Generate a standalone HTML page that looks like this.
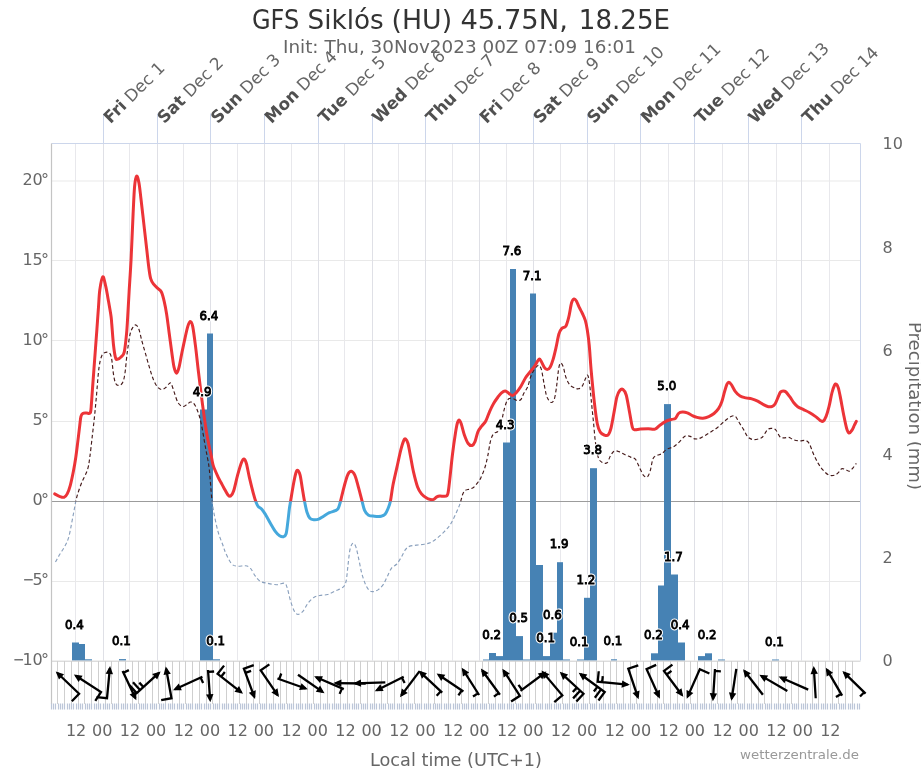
<!DOCTYPE html>
<html lang="en"><head><meta charset="utf-8"><title>GFS Siklós (HU) 45.75N, 18.25E</title>
<style>html,body{margin:0;padding:0;background:#fff}body{width:921px;height:768px;overflow:hidden}svg{display:block}text{font-family:'DejaVu Sans','Liberation Sans',sans-serif}</style>
</head><body>
<svg width="921" height="768" viewBox="0 0 921 768">
<rect width="921" height="768" fill="#fff"/>
<defs>
<clipPath id="above"><rect x="51.5" y="143.5" width="809" height="357.9"/></clipPath>
<clipPath id="below"><rect x="51.5" y="501.4" width="809" height="159.1"/></clipPath>
</defs>
<g stroke="#e8e8ec" stroke-width="1" fill="none">
<path d="M75.5 143.5V660.5M129.5 143.5V660.5M183.5 143.5V660.5M237.5 143.5V660.5M291.5 143.5V660.5M344.5 143.5V660.5M398.5 143.5V660.5M452.5 143.5V660.5M506.5 143.5V660.5M560.5 143.5V660.5M614.5 143.5V660.5M668.5 143.5V660.5M722.5 143.5V660.5M776.5 143.5V660.5M829.5 143.5V660.5"/>
</g>
<g stroke="#e9e9e9" stroke-width="1">
<path d="M51.5 181H860.5"/>
<path d="M51.5 260.5H860.5"/>
<path d="M51.5 340.5H860.5"/>
<path d="M51.5 421.5H860.5"/>
<path d="M51.5 581.5H860.5"/>
</g>
<g stroke="#dfe0e6" stroke-width="1" fill="none">
<path d="M103.5 143.5V660.5M157.5 143.5V660.5M210.5 143.5V660.5M264.5 143.5V660.5M318.5 143.5V660.5M372.5 143.5V660.5M425.5 143.5V660.5M479.5 143.5V660.5M533.5 143.5V660.5M587.5 143.5V660.5M640.5 143.5V660.5M694.5 143.5V660.5M748.5 143.5V660.5M801.5 143.5V660.5"/>
</g>
<g stroke="#ccd6eb" stroke-width="1" fill="none">
<path d="M103.5 113.5V143.5M157.5 113.5V143.5M210.5 113.5V143.5M264.5 113.5V143.5M318.5 113.5V143.5M372.5 113.5V143.5M425.5 113.5V143.5M479.5 113.5V143.5M533.5 113.5V143.5M587.5 113.5V143.5M640.5 113.5V143.5M694.5 113.5V143.5M748.5 113.5V143.5M801.5 113.5V143.5"/>
</g>
<path d="M51.5 501.5H860.5" stroke="#9c9c9c" stroke-width="1.15"/>
<g fill="#4682b4">
<rect x="72" y="642.5" width="7" height="18"/>
<rect x="79" y="644" width="6" height="16.5"/>
<rect x="85" y="659.3" width="7" height="1.2"/>
<rect x="119" y="659.1" width="7" height="1.4"/>
<rect x="200" y="409.5" width="7" height="251"/>
<rect x="207" y="333.5" width="6" height="327"/>
<rect x="213" y="659.3" width="7" height="1.2"/>
<rect x="483" y="659.5" width="6" height="1"/>
<rect x="489" y="653" width="7" height="7.5"/>
<rect x="496" y="656.1" width="7" height="4.4"/>
<rect x="503" y="442.5" width="7" height="218"/>
<rect x="510" y="269" width="6" height="391.5"/>
<rect x="516" y="636.1" width="7" height="24.4"/>
<rect x="523" y="659.5" width="7" height="1"/>
<rect x="530" y="293.5" width="6" height="367"/>
<rect x="536" y="565" width="7" height="95.5"/>
<rect x="543" y="656.1" width="7" height="4.4"/>
<rect x="550" y="632.7" width="7" height="27.8"/>
<rect x="557" y="562.2" width="6" height="98.3"/>
<rect x="563" y="659.5" width="7" height="1"/>
<rect x="577" y="659.5" width="7" height="1"/>
<rect x="584" y="597.8" width="6" height="62.7"/>
<rect x="590" y="468.2" width="7" height="192.3"/>
<rect x="611" y="659.3" width="6" height="1.2"/>
<rect x="651" y="653.3" width="7" height="7.2"/>
<rect x="658" y="585.5" width="6" height="75"/>
<rect x="664" y="404.1" width="7" height="256.4"/>
<rect x="671" y="574.5" width="7" height="86"/>
<rect x="678" y="642.5" width="7" height="18"/>
<rect x="698" y="656.1" width="7" height="4.4"/>
<rect x="705" y="653.3" width="7" height="7.2"/>
<rect x="718" y="659.5" width="7" height="1"/>
<rect x="772" y="659.5" width="7" height="1"/>
</g>
<path d="M55.5 562.1C56.22 560.8 58.27 556.9 59.8 554.3C61.33 551.7 63.23 549.27 64.7 546.5C66.17 543.73 67.47 541.45 68.6 537.7C69.73 533.95 70.57 528.65 71.5 524C72.43 519.35 73.35 514.17 74.2 509.8C75.05 505.43 75.42 502.14 76.6 497.8C77.77 493.46 79.43 488.43 81.25 483.75C83.07 479.07 86.08 474.12 87.5 469.7C88.92 465.27 89.02 462.67 89.8 457.2C90.58 451.73 91.42 443.67 92.2 436.9C92.98 430.13 93.8 423.33 94.5 416.6C95.2 409.87 95.67 404.53 96.4 396.5C97.13 388.47 98 375.2 98.9 368.4C99.8 361.6 100.67 358.37 101.8 355.7C102.93 353.03 104.4 352.82 105.7 352.4C107 351.98 108.62 352.17 109.6 353.2C110.58 354.23 110.95 355.08 111.6 358.6C112.25 362.12 112.85 370.22 113.5 374.3C114.15 378.38 114.68 381.25 115.5 383.1C116.32 384.95 117.27 385.4 118.4 385.4C119.53 385.4 121.23 384.95 122.3 383.1C123.37 381.25 123.98 379.35 124.8 374.3C125.62 369.25 126.32 359.48 127.2 352.8C128.08 346.12 129.12 338.5 130.1 334.2C131.08 329.9 132.12 328.53 133.1 327C134.08 325.47 135.03 324.62 136 325C136.97 325.38 137.92 326.63 138.9 329.3C139.88 331.97 140.75 336.77 141.9 341C143.05 345.23 144.5 350.13 145.8 354.7C147.1 359.27 148.4 364.17 149.7 368.4C151 372.63 152.3 377 153.6 380.1C154.9 383.2 156.2 385.43 157.5 387C158.8 388.57 160.1 389.35 161.4 389.5C162.7 389.65 164 388.88 165.3 387.9C166.6 386.92 168.22 384.32 169.2 383.6C170.18 382.88 170.38 382.22 171.2 383.6C172.02 384.98 172.97 388.73 174.1 391.9C175.23 395.07 176.53 400.17 178 402.6C179.47 405.03 181.43 406.17 182.9 406.5C184.37 406.83 185.5 405.35 186.8 404.6C188.1 403.85 189.4 402 190.7 402C192 402 193.3 402.7 194.6 404.6C195.9 406.5 197.35 409.98 198.5 413.4C199.65 416.82 200.35 419.5 201.5 425.1C202.65 430.7 204.4 441.52 205.4 447C206.4 452.48 206.85 454.28 207.5 458C208.15 461.72 208.58 462.53 209.3 469.3C210.02 476.07 210.98 491.1 211.8 498.6C212.62 506.1 213.15 508.75 214.2 514.3C215.25 519.85 216.63 526.7 218.1 531.9C219.57 537.1 221.7 541.9 223 545.5C224.3 549.1 224.45 550.42 225.9 553.5C227.35 556.58 229.75 561.88 231.7 564C233.65 566.12 235.32 565.9 237.6 566.2C239.88 566.5 243.28 565.48 245.4 565.8C247.52 566.12 248.67 566.42 250.3 568.1C251.93 569.78 253.57 573.72 255.2 575.9C256.83 578.08 258.15 579.98 260.1 581.2C262.05 582.42 264.13 582.62 266.9 583.2C269.67 583.78 273.77 584.7 276.7 584.7C279.63 584.7 282.72 582.55 284.5 583.2C286.28 583.85 286.42 585.73 287.4 588.6C288.38 591.47 289.25 596.65 290.4 600.4C291.55 604.15 293 608.77 294.3 611.1C295.6 613.43 296.73 614.4 298.2 614.4C299.67 614.4 301.48 612.95 303.1 611.1C304.72 609.25 306.12 605.58 307.9 603.3C309.68 601.02 311.83 598.7 313.8 597.4C315.77 596.1 317.42 595.98 319.7 595.5C321.98 595.02 324.9 595.25 327.5 594.5C330.1 593.75 332.7 592.23 335.3 591C337.9 589.77 341.3 588.73 343.1 587.1C344.9 585.47 345.28 584.85 346.1 581.2C346.92 577.55 347.35 570.48 348 565.2C348.65 559.92 349.18 553.15 350 549.5C350.82 545.85 351.93 543.78 352.9 543.3C353.87 542.82 354.82 543.93 355.8 546.6C356.78 549.27 357.82 554.9 358.8 559.3C359.78 563.7 360.57 568.77 361.7 573C362.83 577.23 364.3 581.77 365.6 584.7C366.9 587.63 368.2 589.45 369.5 590.6C370.8 591.75 371.93 591.77 373.4 591.6C374.87 591.43 376.67 590.75 378.3 589.6C379.93 588.45 381.73 586.82 383.2 584.7C384.67 582.58 385.73 579.63 387.1 576.9C388.47 574.17 389.78 570.45 391.4 568.3C393.02 566.15 395.12 565.9 396.8 564C398.48 562.1 400.07 559.28 401.5 556.9C402.93 554.52 404.1 551.45 405.4 549.7C406.7 547.95 407.45 547.17 409.3 546.4C411.15 545.63 414 545.47 416.5 545.1C419 544.73 421.92 544.63 424.3 544.2C426.68 543.77 428.63 543.53 430.8 542.5C432.97 541.47 435.13 539.73 437.3 538C439.47 536.27 441.83 534.05 443.8 532.1C445.77 530.15 447.57 528.37 449.1 526.3C450.63 524.23 451.7 522.2 453 519.7C454.3 517.2 455.72 514 456.9 511.3C458.08 508.6 459.13 506.33 460.1 503.5C461.07 500.67 461.83 496.48 462.7 494.3C463.57 492.12 464.1 491.27 465.3 490.4C466.5 489.53 468.48 489.63 469.9 489.1C471.32 488.57 472.5 488.28 473.8 487.2C475.1 486.12 476.52 484.18 477.7 482.6C478.88 481.02 479.72 480.15 480.9 477.7C482.08 475.25 483.67 471.48 484.8 467.9C485.93 464.32 486.73 460.75 487.7 456.2C488.67 451.65 489.62 444.35 490.6 440.6C491.58 436.85 492.45 435.17 493.6 433.7C494.75 432.23 496.37 432.77 497.5 431.8C498.63 430.83 499.43 431 500.4 427.9C501.37 424.8 502.32 417.43 503.3 413.2C504.28 408.97 505.32 404.93 506.3 402.5C507.28 400.07 508.07 399.25 509.2 398.6C510.33 397.95 511.8 398.28 513.1 398.6C514.4 398.92 515.7 400.35 517 400.5C518.3 400.65 519.78 400.65 520.9 399.5C522.02 398.35 522.57 395.72 523.7 393.6C524.83 391.48 526.55 389.57 527.7 386.8C528.85 384.03 529.47 379.93 530.6 377C531.73 374.07 533.2 371.15 534.5 369.2C535.8 367.25 537.27 365.3 538.4 365.3C539.53 365.3 540.38 366.27 541.3 369.2C542.22 372.13 543.08 378.67 543.9 382.9C544.72 387.13 545.47 391.83 546.2 394.6C546.93 397.37 547.47 398.18 548.3 399.5C549.13 400.82 550.22 402.5 551.2 402.5C552.18 402.5 553.38 401.62 554.2 399.5C555.02 397.38 555.63 392.57 556.1 389.8C556.57 387.03 556.53 386.65 557 382.9C557.47 379.15 558.25 370.62 558.9 367.3C559.55 363.98 560.15 363 560.9 363C561.65 363 562.58 364.97 563.4 367.3C564.22 369.63 564.75 374.08 565.8 377C566.85 379.92 568.23 383 569.7 384.8C571.17 386.6 573.13 387.13 574.6 387.8C576.07 388.47 577.2 389.13 578.5 388.8C579.8 388.47 581.27 387.43 582.4 385.8C583.53 384.17 584.43 380.78 585.3 379C586.17 377.22 586.9 374.4 587.6 375.1C588.3 375.8 588.85 378.58 589.5 383.2C590.15 387.82 590.83 396.28 591.5 402.8C592.17 409.32 592.85 415.78 593.5 422.3C594.15 428.82 594.6 436.03 595.4 441.9C596.2 447.77 597.17 454.08 598.3 457.5C599.43 460.92 600.73 461.52 602.2 462.4C603.67 463.28 605.78 463.78 607.1 462.8C608.42 461.82 608.95 458.43 610.1 456.5C611.25 454.57 612.53 452.02 614 451.2C615.47 450.38 617.12 451.03 618.9 451.6C620.68 452.17 622.75 453.68 624.7 454.6C626.65 455.52 628.8 456.3 630.6 457.1C632.4 457.9 634.03 457.7 635.5 459.4C636.97 461.1 638.1 464.68 639.4 467.3C640.7 469.92 642 473.48 643.3 475.1C644.6 476.72 646.07 477.65 647.2 477C648.33 476.35 649.12 474.28 650.1 471.2C651.08 468.12 651.95 461.12 653.1 458.5C654.25 455.88 655.53 456.32 657 455.5C658.47 454.68 660.28 454.63 661.9 453.6C663.52 452.57 664.75 450.45 666.7 449.3C668.65 448.15 671.48 447.93 673.6 446.7C675.72 445.47 677.45 443.68 679.4 441.9C681.35 440.12 683.5 436.92 685.3 436C687.1 435.08 688.57 435.92 690.2 436.4C691.83 436.88 693.32 438.65 695.1 438.9C696.88 439.15 698.62 438.87 700.9 437.9C703.18 436.93 706.18 434.72 708.8 433.1C711.42 431.48 714 430.17 716.6 428.2C719.2 426.23 722.13 423.17 724.4 421.3C726.67 419.43 728.42 417.87 730.2 417C731.98 416.13 733.63 415.22 735.1 416.1C736.57 416.98 737.53 419.97 739 422.3C740.47 424.63 742.42 427.65 743.9 430.1C745.38 432.55 746.42 435.43 747.9 437C749.38 438.57 751.02 439.18 752.8 439.5C754.58 439.82 756.98 439.32 758.6 438.9C760.22 438.48 761.2 438.3 762.5 437C763.8 435.7 765.25 432.5 766.4 431.1C767.55 429.7 768.25 429.02 769.4 428.6C770.55 428.18 772.17 428.28 773.3 428.6C774.43 428.92 775.07 429.1 776.2 430.5C777.33 431.9 778.8 435.77 780.1 437C781.4 438.23 782.53 437.83 784 437.9C785.47 437.97 787.27 437.07 788.9 437.4C790.53 437.73 792 439.32 793.8 439.9C795.6 440.48 797.75 440.8 799.7 440.9C801.65 441 803.88 440.02 805.5 440.5C807.12 440.98 808.1 441.62 809.4 443.8C810.7 445.98 811.83 450.33 813.3 453.6C814.77 456.87 816.57 460.63 818.2 463.4C819.83 466.17 821.3 468.25 823.1 470.2C824.9 472.15 827.03 474.28 829 475.1C830.97 475.92 833.27 475.6 834.9 475.1C836.53 474.6 837.67 473.15 838.8 472.1C839.93 471.05 840.57 469.22 841.7 468.8C842.83 468.38 844.3 469.2 845.6 469.6C846.9 470 848.2 471.58 849.5 471.2C850.8 470.82 852.27 468.6 853.4 467.3C854.53 466 855.82 464.05 856.3 463.4" fill="none" stroke="#451a1a" stroke-width="1.15" stroke-dasharray="3.7 2.5" clip-path="url(#above)"/>
<path d="M55.5 562.1C56.22 560.8 58.27 556.9 59.8 554.3C61.33 551.7 63.23 549.27 64.7 546.5C66.17 543.73 67.47 541.45 68.6 537.7C69.73 533.95 70.57 528.65 71.5 524C72.43 519.35 73.35 514.17 74.2 509.8C75.05 505.43 75.42 502.14 76.6 497.8C77.77 493.46 79.43 488.43 81.25 483.75C83.07 479.07 86.08 474.12 87.5 469.7C88.92 465.27 89.02 462.67 89.8 457.2C90.58 451.73 91.42 443.67 92.2 436.9C92.98 430.13 93.8 423.33 94.5 416.6C95.2 409.87 95.67 404.53 96.4 396.5C97.13 388.47 98 375.2 98.9 368.4C99.8 361.6 100.67 358.37 101.8 355.7C102.93 353.03 104.4 352.82 105.7 352.4C107 351.98 108.62 352.17 109.6 353.2C110.58 354.23 110.95 355.08 111.6 358.6C112.25 362.12 112.85 370.22 113.5 374.3C114.15 378.38 114.68 381.25 115.5 383.1C116.32 384.95 117.27 385.4 118.4 385.4C119.53 385.4 121.23 384.95 122.3 383.1C123.37 381.25 123.98 379.35 124.8 374.3C125.62 369.25 126.32 359.48 127.2 352.8C128.08 346.12 129.12 338.5 130.1 334.2C131.08 329.9 132.12 328.53 133.1 327C134.08 325.47 135.03 324.62 136 325C136.97 325.38 137.92 326.63 138.9 329.3C139.88 331.97 140.75 336.77 141.9 341C143.05 345.23 144.5 350.13 145.8 354.7C147.1 359.27 148.4 364.17 149.7 368.4C151 372.63 152.3 377 153.6 380.1C154.9 383.2 156.2 385.43 157.5 387C158.8 388.57 160.1 389.35 161.4 389.5C162.7 389.65 164 388.88 165.3 387.9C166.6 386.92 168.22 384.32 169.2 383.6C170.18 382.88 170.38 382.22 171.2 383.6C172.02 384.98 172.97 388.73 174.1 391.9C175.23 395.07 176.53 400.17 178 402.6C179.47 405.03 181.43 406.17 182.9 406.5C184.37 406.83 185.5 405.35 186.8 404.6C188.1 403.85 189.4 402 190.7 402C192 402 193.3 402.7 194.6 404.6C195.9 406.5 197.35 409.98 198.5 413.4C199.65 416.82 200.35 419.5 201.5 425.1C202.65 430.7 204.4 441.52 205.4 447C206.4 452.48 206.85 454.28 207.5 458C208.15 461.72 208.58 462.53 209.3 469.3C210.02 476.07 210.98 491.1 211.8 498.6C212.62 506.1 213.15 508.75 214.2 514.3C215.25 519.85 216.63 526.7 218.1 531.9C219.57 537.1 221.7 541.9 223 545.5C224.3 549.1 224.45 550.42 225.9 553.5C227.35 556.58 229.75 561.88 231.7 564C233.65 566.12 235.32 565.9 237.6 566.2C239.88 566.5 243.28 565.48 245.4 565.8C247.52 566.12 248.67 566.42 250.3 568.1C251.93 569.78 253.57 573.72 255.2 575.9C256.83 578.08 258.15 579.98 260.1 581.2C262.05 582.42 264.13 582.62 266.9 583.2C269.67 583.78 273.77 584.7 276.7 584.7C279.63 584.7 282.72 582.55 284.5 583.2C286.28 583.85 286.42 585.73 287.4 588.6C288.38 591.47 289.25 596.65 290.4 600.4C291.55 604.15 293 608.77 294.3 611.1C295.6 613.43 296.73 614.4 298.2 614.4C299.67 614.4 301.48 612.95 303.1 611.1C304.72 609.25 306.12 605.58 307.9 603.3C309.68 601.02 311.83 598.7 313.8 597.4C315.77 596.1 317.42 595.98 319.7 595.5C321.98 595.02 324.9 595.25 327.5 594.5C330.1 593.75 332.7 592.23 335.3 591C337.9 589.77 341.3 588.73 343.1 587.1C344.9 585.47 345.28 584.85 346.1 581.2C346.92 577.55 347.35 570.48 348 565.2C348.65 559.92 349.18 553.15 350 549.5C350.82 545.85 351.93 543.78 352.9 543.3C353.87 542.82 354.82 543.93 355.8 546.6C356.78 549.27 357.82 554.9 358.8 559.3C359.78 563.7 360.57 568.77 361.7 573C362.83 577.23 364.3 581.77 365.6 584.7C366.9 587.63 368.2 589.45 369.5 590.6C370.8 591.75 371.93 591.77 373.4 591.6C374.87 591.43 376.67 590.75 378.3 589.6C379.93 588.45 381.73 586.82 383.2 584.7C384.67 582.58 385.73 579.63 387.1 576.9C388.47 574.17 389.78 570.45 391.4 568.3C393.02 566.15 395.12 565.9 396.8 564C398.48 562.1 400.07 559.28 401.5 556.9C402.93 554.52 404.1 551.45 405.4 549.7C406.7 547.95 407.45 547.17 409.3 546.4C411.15 545.63 414 545.47 416.5 545.1C419 544.73 421.92 544.63 424.3 544.2C426.68 543.77 428.63 543.53 430.8 542.5C432.97 541.47 435.13 539.73 437.3 538C439.47 536.27 441.83 534.05 443.8 532.1C445.77 530.15 447.57 528.37 449.1 526.3C450.63 524.23 451.7 522.2 453 519.7C454.3 517.2 455.72 514 456.9 511.3C458.08 508.6 459.13 506.33 460.1 503.5C461.07 500.67 461.83 496.48 462.7 494.3C463.57 492.12 464.1 491.27 465.3 490.4C466.5 489.53 468.48 489.63 469.9 489.1C471.32 488.57 472.5 488.28 473.8 487.2C475.1 486.12 476.52 484.18 477.7 482.6C478.88 481.02 479.72 480.15 480.9 477.7C482.08 475.25 483.67 471.48 484.8 467.9C485.93 464.32 486.73 460.75 487.7 456.2C488.67 451.65 489.62 444.35 490.6 440.6C491.58 436.85 492.45 435.17 493.6 433.7C494.75 432.23 496.37 432.77 497.5 431.8C498.63 430.83 499.43 431 500.4 427.9C501.37 424.8 502.32 417.43 503.3 413.2C504.28 408.97 505.32 404.93 506.3 402.5C507.28 400.07 508.07 399.25 509.2 398.6C510.33 397.95 511.8 398.28 513.1 398.6C514.4 398.92 515.7 400.35 517 400.5C518.3 400.65 519.78 400.65 520.9 399.5C522.02 398.35 522.57 395.72 523.7 393.6C524.83 391.48 526.55 389.57 527.7 386.8C528.85 384.03 529.47 379.93 530.6 377C531.73 374.07 533.2 371.15 534.5 369.2C535.8 367.25 537.27 365.3 538.4 365.3C539.53 365.3 540.38 366.27 541.3 369.2C542.22 372.13 543.08 378.67 543.9 382.9C544.72 387.13 545.47 391.83 546.2 394.6C546.93 397.37 547.47 398.18 548.3 399.5C549.13 400.82 550.22 402.5 551.2 402.5C552.18 402.5 553.38 401.62 554.2 399.5C555.02 397.38 555.63 392.57 556.1 389.8C556.57 387.03 556.53 386.65 557 382.9C557.47 379.15 558.25 370.62 558.9 367.3C559.55 363.98 560.15 363 560.9 363C561.65 363 562.58 364.97 563.4 367.3C564.22 369.63 564.75 374.08 565.8 377C566.85 379.92 568.23 383 569.7 384.8C571.17 386.6 573.13 387.13 574.6 387.8C576.07 388.47 577.2 389.13 578.5 388.8C579.8 388.47 581.27 387.43 582.4 385.8C583.53 384.17 584.43 380.78 585.3 379C586.17 377.22 586.9 374.4 587.6 375.1C588.3 375.8 588.85 378.58 589.5 383.2C590.15 387.82 590.83 396.28 591.5 402.8C592.17 409.32 592.85 415.78 593.5 422.3C594.15 428.82 594.6 436.03 595.4 441.9C596.2 447.77 597.17 454.08 598.3 457.5C599.43 460.92 600.73 461.52 602.2 462.4C603.67 463.28 605.78 463.78 607.1 462.8C608.42 461.82 608.95 458.43 610.1 456.5C611.25 454.57 612.53 452.02 614 451.2C615.47 450.38 617.12 451.03 618.9 451.6C620.68 452.17 622.75 453.68 624.7 454.6C626.65 455.52 628.8 456.3 630.6 457.1C632.4 457.9 634.03 457.7 635.5 459.4C636.97 461.1 638.1 464.68 639.4 467.3C640.7 469.92 642 473.48 643.3 475.1C644.6 476.72 646.07 477.65 647.2 477C648.33 476.35 649.12 474.28 650.1 471.2C651.08 468.12 651.95 461.12 653.1 458.5C654.25 455.88 655.53 456.32 657 455.5C658.47 454.68 660.28 454.63 661.9 453.6C663.52 452.57 664.75 450.45 666.7 449.3C668.65 448.15 671.48 447.93 673.6 446.7C675.72 445.47 677.45 443.68 679.4 441.9C681.35 440.12 683.5 436.92 685.3 436C687.1 435.08 688.57 435.92 690.2 436.4C691.83 436.88 693.32 438.65 695.1 438.9C696.88 439.15 698.62 438.87 700.9 437.9C703.18 436.93 706.18 434.72 708.8 433.1C711.42 431.48 714 430.17 716.6 428.2C719.2 426.23 722.13 423.17 724.4 421.3C726.67 419.43 728.42 417.87 730.2 417C731.98 416.13 733.63 415.22 735.1 416.1C736.57 416.98 737.53 419.97 739 422.3C740.47 424.63 742.42 427.65 743.9 430.1C745.38 432.55 746.42 435.43 747.9 437C749.38 438.57 751.02 439.18 752.8 439.5C754.58 439.82 756.98 439.32 758.6 438.9C760.22 438.48 761.2 438.3 762.5 437C763.8 435.7 765.25 432.5 766.4 431.1C767.55 429.7 768.25 429.02 769.4 428.6C770.55 428.18 772.17 428.28 773.3 428.6C774.43 428.92 775.07 429.1 776.2 430.5C777.33 431.9 778.8 435.77 780.1 437C781.4 438.23 782.53 437.83 784 437.9C785.47 437.97 787.27 437.07 788.9 437.4C790.53 437.73 792 439.32 793.8 439.9C795.6 440.48 797.75 440.8 799.7 440.9C801.65 441 803.88 440.02 805.5 440.5C807.12 440.98 808.1 441.62 809.4 443.8C810.7 445.98 811.83 450.33 813.3 453.6C814.77 456.87 816.57 460.63 818.2 463.4C819.83 466.17 821.3 468.25 823.1 470.2C824.9 472.15 827.03 474.28 829 475.1C830.97 475.92 833.27 475.6 834.9 475.1C836.53 474.6 837.67 473.15 838.8 472.1C839.93 471.05 840.57 469.22 841.7 468.8C842.83 468.38 844.3 469.2 845.6 469.6C846.9 470 848.2 471.58 849.5 471.2C850.8 470.82 852.27 468.6 853.4 467.3C854.53 466 855.82 464.05 856.3 463.4" fill="none" stroke="#8aa0bd" stroke-width="1.15" stroke-dasharray="3.7 2.5" clip-path="url(#below)"/>
<path d="M54.7 493.9C55.48 494.3 57.83 495.73 59.4 496.3C60.97 496.87 62.8 497.7 64.1 497.3C65.4 496.9 66.17 495.9 67.2 493.9C68.23 491.9 69.27 489.07 70.3 485.3C71.33 481.53 72.48 475.98 73.4 471.3C74.32 466.62 75.07 462.15 75.8 457.2C76.53 452.25 77.15 446.82 77.8 441.6C78.45 436.38 79.18 430.07 79.7 425.9C80.22 421.73 80.38 418.68 80.9 416.6C81.42 414.52 81.87 414 82.8 413.4C83.73 412.8 85.25 413.1 86.5 413C87.75 412.9 89.48 414.3 90.3 412.8C91.12 411.3 91.05 407.8 91.4 404C91.75 400.2 91.97 395.93 92.4 390C92.83 384.07 93.25 378.52 94 368.4C94.75 358.28 96.15 339.53 96.9 329.3C97.65 319.07 98.02 313.55 98.5 307C98.98 300.45 99.08 295.03 99.8 290C100.52 284.97 101.82 277.43 102.8 276.8C103.78 276.17 104.73 282.03 105.7 286.2C106.67 290.37 107.72 296.83 108.6 301.8C109.48 306.77 110.47 312.22 111 316C111.53 319.78 111.38 319.67 111.8 324.5C112.22 329.33 112.88 339.47 113.5 345C114.12 350.53 114.85 355.33 115.5 357.7C116.15 360.07 116.43 359.37 117.4 359.2C118.37 359.03 120.15 357.93 121.3 356.7C122.45 355.47 123.42 355.72 124.3 351.8C125.18 347.88 126.02 339.33 126.6 333.2C127.18 327.07 127.38 321.87 127.8 315C128.22 308.13 128.55 301.37 129.1 292C129.65 282.63 130.43 271.82 131.1 258.8C131.77 245.78 132.52 225.95 133.1 213.9C133.68 201.85 134.02 192.8 134.6 186.5C135.18 180.2 135.88 176.75 136.6 176.1C137.32 175.45 138.18 178.92 138.9 182.6C139.62 186.28 140.08 191.37 140.9 198.2C141.72 205.03 142.83 215.13 143.8 223.6C144.77 232.07 145.88 241.83 146.7 249C147.52 256.17 148.05 261.72 148.7 266.6C149.35 271.48 149.78 275.37 150.6 278.3C151.42 281.23 152.45 282.57 153.6 284.2C154.75 285.83 156.2 286.8 157.5 288.1C158.8 289.4 160.27 289.72 161.4 292C162.53 294.28 163.43 298.13 164.3 301.8C165.17 305.47 165.78 308.77 166.6 314C167.42 319.23 168.28 326.42 169.2 333.2C170.12 339.98 171.28 349 172.1 354.7C172.92 360.4 173.35 364.3 174.1 367.4C174.85 370.5 175.78 373.3 176.6 373.3C177.42 373.3 178.12 370.82 179 367.4C179.88 363.98 180.93 357.52 181.9 352.8C182.87 348.08 183.82 343.5 184.8 339.1C185.78 334.7 186.88 329.33 187.8 326.4C188.72 323.47 189.48 321.5 190.3 321.5C191.12 321.5 191.82 322.17 192.7 326.4C193.58 330.63 194.63 339.25 195.6 346.9C196.57 354.55 197.37 362.85 198.5 372.3C199.63 381.75 201.1 393.83 202.4 403.6C203.7 413.37 205.15 423.67 206.3 430.9C207.45 438.13 208.48 442.88 209.3 447C210.12 451.12 210.55 452.53 211.2 455.6C211.85 458.67 212.05 461.82 213.2 465.4C214.35 468.98 216.8 474.25 218.1 477.1C219.4 479.95 220.03 480.7 221 482.5C221.97 484.3 222.77 485.87 223.9 487.9C225.03 489.93 226.67 493.33 227.8 494.7C228.93 496.07 229.72 496.75 230.7 496.1C231.68 495.45 232.55 494.28 233.7 490.8C234.85 487.32 236.3 479.92 237.6 475.2C238.9 470.48 240.43 465.2 241.5 462.5C242.57 459.8 243.18 458.83 244 459C244.82 459.17 245.52 460.48 246.4 463.5C247.28 466.52 248.17 472.22 249.3 477.1C250.43 481.98 252.12 488.72 253.2 492.8C254.28 496.88 254.98 499.33 255.8 501.6C256.62 503.87 257.07 505.1 258.1 506.4C259.13 507.7 260.7 507.93 262 509.4C263.3 510.87 264.43 512.77 265.9 515.2C267.37 517.63 269.17 521.22 270.8 524C272.43 526.78 274.23 529.93 275.7 531.9C277.17 533.87 278.3 535 279.6 535.8C280.9 536.6 282.42 537.03 283.5 536.7C284.58 536.37 285.38 536.23 286.1 533.8C286.82 531.37 287.25 526.33 287.8 522.1C288.35 517.87 288.92 511.98 289.4 508.4C289.88 504.82 290.05 504.52 290.7 500.6C291.35 496.68 292.45 489.47 293.3 484.9C294.15 480.33 295.05 475.63 295.8 473.2C296.55 470.77 297.08 469.97 297.8 470.3C298.52 470.63 299.38 472.43 300.1 475.2C300.82 477.97 301.38 482.67 302.1 486.9C302.82 491.13 303.58 496.37 304.4 500.6C305.22 504.83 306.08 509.37 307 512.3C307.92 515.23 308.77 516.97 309.9 518.2C311.03 519.43 312.33 519.55 313.8 519.7C315.27 519.85 317.07 519.68 318.7 519.1C320.33 518.52 321.82 517.27 323.6 516.2C325.38 515.13 327.45 513.62 329.4 512.7C331.35 511.78 333.83 511.42 335.3 510.7C336.77 509.98 337.38 509.77 338.2 508.4C339.02 507.03 339.55 504.78 340.2 502.5C340.85 500.22 341.28 497.95 342.1 494.7C342.92 491.45 344.12 486.42 345.1 483C346.08 479.58 346.97 476.15 348 474.2C349.03 472.25 350.17 471.13 351.3 471.3C352.43 471.47 353.72 472.93 354.8 475.2C355.88 477.47 356.65 480.83 357.8 484.9C358.95 488.97 360.57 495.35 361.7 499.6C362.83 503.85 363.47 507.8 364.6 510.4C365.73 513 366.87 514.23 368.5 515.2C370.13 516.17 372.28 516.03 374.4 516.2C376.52 516.37 379.42 516.52 381.2 516.2C382.98 515.88 383.95 515.6 385.1 514.3C386.25 513 387.22 510.58 388.1 508.4C388.98 506.22 389.6 505.02 390.4 501.2C391.2 497.38 391.83 491.05 392.9 485.5C393.97 479.95 395.5 473.75 396.8 467.9C398.1 462.05 399.55 454.95 400.7 450.4C401.85 445.85 402.88 442.5 403.7 440.6C404.52 438.7 404.88 438.52 405.6 439C406.32 439.48 407.18 440.63 408 443.5C408.82 446.37 409.58 451.47 410.5 456.2C411.42 460.93 412.32 466.77 413.5 471.9C414.68 477.03 416.27 483.33 417.6 487C418.93 490.67 420.07 492.1 421.5 493.9C422.93 495.7 424.7 496.87 426.2 497.8C427.7 498.73 429.27 499.23 430.5 499.5C431.73 499.77 432.55 499.83 433.6 499.4C434.65 498.97 435.75 497.47 436.8 496.9C437.85 496.33 438.73 496.1 439.9 496C441.07 495.9 442.62 496.37 443.8 496.3C444.98 496.23 446.27 496.32 447 495.6C447.73 494.88 447.77 494.43 448.2 492C448.63 489.57 448.88 487.28 449.6 481C450.32 474.72 451.52 462.33 452.5 454.3C453.48 446.27 454.68 438.02 455.5 432.8C456.32 427.58 456.75 425.12 457.4 423C458.05 420.88 458.75 419.93 459.4 420.1C460.05 420.27 460.48 421.57 461.3 424C462.12 426.43 463.15 431.45 464.3 434.7C465.45 437.95 466.9 441.7 468.2 443.5C469.5 445.3 470.97 445.82 472.1 445.5C473.23 445.18 474.03 443.88 475 441.6C475.97 439.32 476.75 434.42 477.9 431.8C479.05 429.18 480.58 427.7 481.9 425.9C483.22 424.1 484.5 423.43 485.8 421C487.1 418.57 488.4 414.22 489.7 411.3C491 408.38 492.22 405.88 493.6 403.5C494.98 401.12 496.68 398.78 498 397C499.32 395.22 500.3 393.82 501.5 392.8C502.7 391.78 503.93 390.77 505.2 390.9C506.47 391.03 507.88 392.85 509.1 393.6C510.32 394.35 511.32 395.55 512.5 395.4C513.68 395.25 514.82 394.18 516.2 392.7C517.58 391.22 519.22 389.03 520.8 386.5C522.38 383.97 524.07 380.05 525.7 377.5C527.33 374.95 529.13 373.07 530.6 371.2C532.07 369.33 533.37 367.93 534.5 366.3C535.63 364.67 536.58 362.62 537.4 361.4C538.22 360.18 538.75 359 539.4 359C540.05 359 540.48 360.02 541.3 361.4C542.12 362.78 543.32 365.93 544.3 367.3C545.28 368.67 546.23 369.6 547.2 369.6C548.17 369.6 549.12 369 550.1 367.3C551.08 365.6 552.12 362.67 553.1 359.4C554.08 356.13 555.03 351.93 556 347.7C556.97 343.47 557.92 337.25 558.9 334C559.88 330.75 560.75 329.5 561.9 328.2C563.05 326.9 564.67 328 565.8 326.2C566.93 324.4 567.73 321.3 568.7 317.4C569.67 313.5 570.68 305.88 571.6 302.8C572.52 299.72 573.38 299.17 574.2 298.9C575.02 298.63 575.63 299.73 576.5 301.2C577.37 302.67 578.42 305.65 579.4 307.7C580.38 309.75 581.42 311.38 582.4 313.5C583.38 315.62 584.48 317.63 585.3 320.4C586.12 323.17 586.65 326 587.3 330.1C587.95 334.2 588.53 338.02 589.2 345C589.87 351.98 590.43 362.37 591.3 372C592.17 381.63 593.38 394.08 594.4 402.8C595.42 411.52 596.42 419.42 597.4 424.3C598.38 429.18 599.17 430.32 600.3 432.1C601.43 433.88 602.9 434.52 604.2 435C605.5 435.48 606.97 436.13 608.1 435C609.23 433.87 610.02 431.95 611 428.2C611.98 424.45 613.02 417.72 614 412.5C614.98 407.28 615.93 400.57 616.9 396.9C617.87 393.23 618.78 391.73 619.8 390.5C620.82 389.27 621.93 388.75 623 389.5C624.07 390.25 625.1 391.17 626.2 395C627.3 398.83 628.62 407.3 629.6 412.5C630.58 417.7 631.35 423.33 632.1 426.2C632.85 429.07 632.72 429.22 634.1 429.7C635.48 430.18 638.05 429.25 640.4 429.1C642.75 428.95 645.77 428.8 648.2 428.8C650.63 428.8 653.05 429.7 655 429.1C656.95 428.5 658.1 426.5 659.9 425.2C661.7 423.9 663.85 422.27 665.8 421.3C667.75 420.33 669.98 419.88 671.6 419.4C673.22 418.92 674.35 419.38 675.5 418.4C676.65 417.42 677.35 414.55 678.5 413.5C679.65 412.45 680.93 412.2 682.4 412.1C683.87 412 685.68 412.33 687.3 412.9C688.92 413.47 690.48 414.75 692.1 415.5C693.72 416.25 695.2 416.95 697 417.4C698.8 417.85 700.93 418.33 702.9 418.2C704.87 418.07 706.95 417.38 708.8 416.6C710.65 415.82 712.38 414.82 714 413.5C715.62 412.18 717.2 410.65 718.5 408.7C719.8 406.75 720.78 404.67 721.8 401.8C722.82 398.93 723.73 394.43 724.6 391.5C725.47 388.57 726.3 385.75 727 384.2C727.7 382.65 728.08 382.15 728.8 382.2C729.52 382.25 730.23 382.98 731.3 384.5C732.37 386.02 733.73 389.38 735.2 391.3C736.67 393.22 738.32 394.9 740.1 396C741.88 397.1 743.95 397.42 745.9 397.9C747.85 398.38 749.83 398.35 751.8 398.9C753.77 399.45 755.75 400.23 757.7 401.2C759.65 402.17 761.72 403.78 763.5 404.7C765.28 405.62 766.93 406.43 768.4 406.7C769.87 406.97 771.17 406.8 772.3 406.3C773.43 405.8 774.22 405.27 775.2 403.7C776.18 402.13 777.32 398.85 778.2 396.9C779.08 394.95 779.68 392.98 780.5 392C781.32 391.02 782.18 391 783.1 391C784.02 391 784.87 391.02 786 392C787.13 392.98 788.6 395.1 789.9 396.9C791.2 398.7 792.5 401.17 793.8 402.8C795.1 404.43 796.07 405.57 797.7 406.7C799.33 407.83 801.65 408.63 803.6 409.6C805.55 410.57 807.45 411.37 809.4 412.5C811.35 413.63 813.5 415.08 815.3 416.4C817.1 417.72 818.9 419.58 820.2 420.4C821.5 421.22 822.12 421.97 823.1 421.3C824.08 420.63 825.12 418.83 826.1 416.4C827.08 413.97 828.03 410.6 829 406.7C829.97 402.8 830.98 396.58 831.9 393C832.82 389.42 833.75 386.67 834.5 385.2C835.25 383.73 835.75 383.72 836.4 384.2C837.05 384.68 837.68 385.65 838.4 388.1C839.12 390.55 839.83 394.5 840.7 398.9C841.57 403.3 842.62 409.62 843.6 414.5C844.58 419.38 845.68 425.1 846.6 428.2C847.52 431.3 848.2 432.78 849.1 433.1C850 433.42 851.12 431.42 852 430.1C852.88 428.78 853.68 426.67 854.4 425.2C855.12 423.73 855.98 421.95 856.3 421.3" fill="none" stroke="#ec3438" stroke-width="3" stroke-linejoin="round" stroke-linecap="round" clip-path="url(#above)"/>
<path d="M54.7 493.9C55.48 494.3 57.83 495.73 59.4 496.3C60.97 496.87 62.8 497.7 64.1 497.3C65.4 496.9 66.17 495.9 67.2 493.9C68.23 491.9 69.27 489.07 70.3 485.3C71.33 481.53 72.48 475.98 73.4 471.3C74.32 466.62 75.07 462.15 75.8 457.2C76.53 452.25 77.15 446.82 77.8 441.6C78.45 436.38 79.18 430.07 79.7 425.9C80.22 421.73 80.38 418.68 80.9 416.6C81.42 414.52 81.87 414 82.8 413.4C83.73 412.8 85.25 413.1 86.5 413C87.75 412.9 89.48 414.3 90.3 412.8C91.12 411.3 91.05 407.8 91.4 404C91.75 400.2 91.97 395.93 92.4 390C92.83 384.07 93.25 378.52 94 368.4C94.75 358.28 96.15 339.53 96.9 329.3C97.65 319.07 98.02 313.55 98.5 307C98.98 300.45 99.08 295.03 99.8 290C100.52 284.97 101.82 277.43 102.8 276.8C103.78 276.17 104.73 282.03 105.7 286.2C106.67 290.37 107.72 296.83 108.6 301.8C109.48 306.77 110.47 312.22 111 316C111.53 319.78 111.38 319.67 111.8 324.5C112.22 329.33 112.88 339.47 113.5 345C114.12 350.53 114.85 355.33 115.5 357.7C116.15 360.07 116.43 359.37 117.4 359.2C118.37 359.03 120.15 357.93 121.3 356.7C122.45 355.47 123.42 355.72 124.3 351.8C125.18 347.88 126.02 339.33 126.6 333.2C127.18 327.07 127.38 321.87 127.8 315C128.22 308.13 128.55 301.37 129.1 292C129.65 282.63 130.43 271.82 131.1 258.8C131.77 245.78 132.52 225.95 133.1 213.9C133.68 201.85 134.02 192.8 134.6 186.5C135.18 180.2 135.88 176.75 136.6 176.1C137.32 175.45 138.18 178.92 138.9 182.6C139.62 186.28 140.08 191.37 140.9 198.2C141.72 205.03 142.83 215.13 143.8 223.6C144.77 232.07 145.88 241.83 146.7 249C147.52 256.17 148.05 261.72 148.7 266.6C149.35 271.48 149.78 275.37 150.6 278.3C151.42 281.23 152.45 282.57 153.6 284.2C154.75 285.83 156.2 286.8 157.5 288.1C158.8 289.4 160.27 289.72 161.4 292C162.53 294.28 163.43 298.13 164.3 301.8C165.17 305.47 165.78 308.77 166.6 314C167.42 319.23 168.28 326.42 169.2 333.2C170.12 339.98 171.28 349 172.1 354.7C172.92 360.4 173.35 364.3 174.1 367.4C174.85 370.5 175.78 373.3 176.6 373.3C177.42 373.3 178.12 370.82 179 367.4C179.88 363.98 180.93 357.52 181.9 352.8C182.87 348.08 183.82 343.5 184.8 339.1C185.78 334.7 186.88 329.33 187.8 326.4C188.72 323.47 189.48 321.5 190.3 321.5C191.12 321.5 191.82 322.17 192.7 326.4C193.58 330.63 194.63 339.25 195.6 346.9C196.57 354.55 197.37 362.85 198.5 372.3C199.63 381.75 201.1 393.83 202.4 403.6C203.7 413.37 205.15 423.67 206.3 430.9C207.45 438.13 208.48 442.88 209.3 447C210.12 451.12 210.55 452.53 211.2 455.6C211.85 458.67 212.05 461.82 213.2 465.4C214.35 468.98 216.8 474.25 218.1 477.1C219.4 479.95 220.03 480.7 221 482.5C221.97 484.3 222.77 485.87 223.9 487.9C225.03 489.93 226.67 493.33 227.8 494.7C228.93 496.07 229.72 496.75 230.7 496.1C231.68 495.45 232.55 494.28 233.7 490.8C234.85 487.32 236.3 479.92 237.6 475.2C238.9 470.48 240.43 465.2 241.5 462.5C242.57 459.8 243.18 458.83 244 459C244.82 459.17 245.52 460.48 246.4 463.5C247.28 466.52 248.17 472.22 249.3 477.1C250.43 481.98 252.12 488.72 253.2 492.8C254.28 496.88 254.98 499.33 255.8 501.6C256.62 503.87 257.07 505.1 258.1 506.4C259.13 507.7 260.7 507.93 262 509.4C263.3 510.87 264.43 512.77 265.9 515.2C267.37 517.63 269.17 521.22 270.8 524C272.43 526.78 274.23 529.93 275.7 531.9C277.17 533.87 278.3 535 279.6 535.8C280.9 536.6 282.42 537.03 283.5 536.7C284.58 536.37 285.38 536.23 286.1 533.8C286.82 531.37 287.25 526.33 287.8 522.1C288.35 517.87 288.92 511.98 289.4 508.4C289.88 504.82 290.05 504.52 290.7 500.6C291.35 496.68 292.45 489.47 293.3 484.9C294.15 480.33 295.05 475.63 295.8 473.2C296.55 470.77 297.08 469.97 297.8 470.3C298.52 470.63 299.38 472.43 300.1 475.2C300.82 477.97 301.38 482.67 302.1 486.9C302.82 491.13 303.58 496.37 304.4 500.6C305.22 504.83 306.08 509.37 307 512.3C307.92 515.23 308.77 516.97 309.9 518.2C311.03 519.43 312.33 519.55 313.8 519.7C315.27 519.85 317.07 519.68 318.7 519.1C320.33 518.52 321.82 517.27 323.6 516.2C325.38 515.13 327.45 513.62 329.4 512.7C331.35 511.78 333.83 511.42 335.3 510.7C336.77 509.98 337.38 509.77 338.2 508.4C339.02 507.03 339.55 504.78 340.2 502.5C340.85 500.22 341.28 497.95 342.1 494.7C342.92 491.45 344.12 486.42 345.1 483C346.08 479.58 346.97 476.15 348 474.2C349.03 472.25 350.17 471.13 351.3 471.3C352.43 471.47 353.72 472.93 354.8 475.2C355.88 477.47 356.65 480.83 357.8 484.9C358.95 488.97 360.57 495.35 361.7 499.6C362.83 503.85 363.47 507.8 364.6 510.4C365.73 513 366.87 514.23 368.5 515.2C370.13 516.17 372.28 516.03 374.4 516.2C376.52 516.37 379.42 516.52 381.2 516.2C382.98 515.88 383.95 515.6 385.1 514.3C386.25 513 387.22 510.58 388.1 508.4C388.98 506.22 389.6 505.02 390.4 501.2C391.2 497.38 391.83 491.05 392.9 485.5C393.97 479.95 395.5 473.75 396.8 467.9C398.1 462.05 399.55 454.95 400.7 450.4C401.85 445.85 402.88 442.5 403.7 440.6C404.52 438.7 404.88 438.52 405.6 439C406.32 439.48 407.18 440.63 408 443.5C408.82 446.37 409.58 451.47 410.5 456.2C411.42 460.93 412.32 466.77 413.5 471.9C414.68 477.03 416.27 483.33 417.6 487C418.93 490.67 420.07 492.1 421.5 493.9C422.93 495.7 424.7 496.87 426.2 497.8C427.7 498.73 429.27 499.23 430.5 499.5C431.73 499.77 432.55 499.83 433.6 499.4C434.65 498.97 435.75 497.47 436.8 496.9C437.85 496.33 438.73 496.1 439.9 496C441.07 495.9 442.62 496.37 443.8 496.3C444.98 496.23 446.27 496.32 447 495.6C447.73 494.88 447.77 494.43 448.2 492C448.63 489.57 448.88 487.28 449.6 481C450.32 474.72 451.52 462.33 452.5 454.3C453.48 446.27 454.68 438.02 455.5 432.8C456.32 427.58 456.75 425.12 457.4 423C458.05 420.88 458.75 419.93 459.4 420.1C460.05 420.27 460.48 421.57 461.3 424C462.12 426.43 463.15 431.45 464.3 434.7C465.45 437.95 466.9 441.7 468.2 443.5C469.5 445.3 470.97 445.82 472.1 445.5C473.23 445.18 474.03 443.88 475 441.6C475.97 439.32 476.75 434.42 477.9 431.8C479.05 429.18 480.58 427.7 481.9 425.9C483.22 424.1 484.5 423.43 485.8 421C487.1 418.57 488.4 414.22 489.7 411.3C491 408.38 492.22 405.88 493.6 403.5C494.98 401.12 496.68 398.78 498 397C499.32 395.22 500.3 393.82 501.5 392.8C502.7 391.78 503.93 390.77 505.2 390.9C506.47 391.03 507.88 392.85 509.1 393.6C510.32 394.35 511.32 395.55 512.5 395.4C513.68 395.25 514.82 394.18 516.2 392.7C517.58 391.22 519.22 389.03 520.8 386.5C522.38 383.97 524.07 380.05 525.7 377.5C527.33 374.95 529.13 373.07 530.6 371.2C532.07 369.33 533.37 367.93 534.5 366.3C535.63 364.67 536.58 362.62 537.4 361.4C538.22 360.18 538.75 359 539.4 359C540.05 359 540.48 360.02 541.3 361.4C542.12 362.78 543.32 365.93 544.3 367.3C545.28 368.67 546.23 369.6 547.2 369.6C548.17 369.6 549.12 369 550.1 367.3C551.08 365.6 552.12 362.67 553.1 359.4C554.08 356.13 555.03 351.93 556 347.7C556.97 343.47 557.92 337.25 558.9 334C559.88 330.75 560.75 329.5 561.9 328.2C563.05 326.9 564.67 328 565.8 326.2C566.93 324.4 567.73 321.3 568.7 317.4C569.67 313.5 570.68 305.88 571.6 302.8C572.52 299.72 573.38 299.17 574.2 298.9C575.02 298.63 575.63 299.73 576.5 301.2C577.37 302.67 578.42 305.65 579.4 307.7C580.38 309.75 581.42 311.38 582.4 313.5C583.38 315.62 584.48 317.63 585.3 320.4C586.12 323.17 586.65 326 587.3 330.1C587.95 334.2 588.53 338.02 589.2 345C589.87 351.98 590.43 362.37 591.3 372C592.17 381.63 593.38 394.08 594.4 402.8C595.42 411.52 596.42 419.42 597.4 424.3C598.38 429.18 599.17 430.32 600.3 432.1C601.43 433.88 602.9 434.52 604.2 435C605.5 435.48 606.97 436.13 608.1 435C609.23 433.87 610.02 431.95 611 428.2C611.98 424.45 613.02 417.72 614 412.5C614.98 407.28 615.93 400.57 616.9 396.9C617.87 393.23 618.78 391.73 619.8 390.5C620.82 389.27 621.93 388.75 623 389.5C624.07 390.25 625.1 391.17 626.2 395C627.3 398.83 628.62 407.3 629.6 412.5C630.58 417.7 631.35 423.33 632.1 426.2C632.85 429.07 632.72 429.22 634.1 429.7C635.48 430.18 638.05 429.25 640.4 429.1C642.75 428.95 645.77 428.8 648.2 428.8C650.63 428.8 653.05 429.7 655 429.1C656.95 428.5 658.1 426.5 659.9 425.2C661.7 423.9 663.85 422.27 665.8 421.3C667.75 420.33 669.98 419.88 671.6 419.4C673.22 418.92 674.35 419.38 675.5 418.4C676.65 417.42 677.35 414.55 678.5 413.5C679.65 412.45 680.93 412.2 682.4 412.1C683.87 412 685.68 412.33 687.3 412.9C688.92 413.47 690.48 414.75 692.1 415.5C693.72 416.25 695.2 416.95 697 417.4C698.8 417.85 700.93 418.33 702.9 418.2C704.87 418.07 706.95 417.38 708.8 416.6C710.65 415.82 712.38 414.82 714 413.5C715.62 412.18 717.2 410.65 718.5 408.7C719.8 406.75 720.78 404.67 721.8 401.8C722.82 398.93 723.73 394.43 724.6 391.5C725.47 388.57 726.3 385.75 727 384.2C727.7 382.65 728.08 382.15 728.8 382.2C729.52 382.25 730.23 382.98 731.3 384.5C732.37 386.02 733.73 389.38 735.2 391.3C736.67 393.22 738.32 394.9 740.1 396C741.88 397.1 743.95 397.42 745.9 397.9C747.85 398.38 749.83 398.35 751.8 398.9C753.77 399.45 755.75 400.23 757.7 401.2C759.65 402.17 761.72 403.78 763.5 404.7C765.28 405.62 766.93 406.43 768.4 406.7C769.87 406.97 771.17 406.8 772.3 406.3C773.43 405.8 774.22 405.27 775.2 403.7C776.18 402.13 777.32 398.85 778.2 396.9C779.08 394.95 779.68 392.98 780.5 392C781.32 391.02 782.18 391 783.1 391C784.02 391 784.87 391.02 786 392C787.13 392.98 788.6 395.1 789.9 396.9C791.2 398.7 792.5 401.17 793.8 402.8C795.1 404.43 796.07 405.57 797.7 406.7C799.33 407.83 801.65 408.63 803.6 409.6C805.55 410.57 807.45 411.37 809.4 412.5C811.35 413.63 813.5 415.08 815.3 416.4C817.1 417.72 818.9 419.58 820.2 420.4C821.5 421.22 822.12 421.97 823.1 421.3C824.08 420.63 825.12 418.83 826.1 416.4C827.08 413.97 828.03 410.6 829 406.7C829.97 402.8 830.98 396.58 831.9 393C832.82 389.42 833.75 386.67 834.5 385.2C835.25 383.73 835.75 383.72 836.4 384.2C837.05 384.68 837.68 385.65 838.4 388.1C839.12 390.55 839.83 394.5 840.7 398.9C841.57 403.3 842.62 409.62 843.6 414.5C844.58 419.38 845.68 425.1 846.6 428.2C847.52 431.3 848.2 432.78 849.1 433.1C850 433.42 851.12 431.42 852 430.1C852.88 428.78 853.68 426.67 854.4 425.2C855.12 423.73 855.98 421.95 856.3 421.3" fill="none" stroke="#45a8dc" stroke-width="3" stroke-linejoin="round" stroke-linecap="round" clip-path="url(#below)"/>
<path d="M51.5 143.5H860.5V660.5" fill="none" stroke="#ccd6eb" stroke-width="1"/>
<path d="M51.5 143.5V704" fill="none" stroke="#c4c4c4" stroke-width="1.2"/>
<path d="M51.5 661.2H860.5" fill="none" stroke="#cccccc" stroke-width="1"/>
<g font-size="13" text-anchor="middle" fill="#fff" stroke="#fff" stroke-width="3.2" stroke-linejoin="round">
<text x="74.3" y="628.5" textLength="18.8" lengthAdjust="spacingAndGlyphs">0.4</text>
<text x="121.43" y="645.1" textLength="18.8" lengthAdjust="spacingAndGlyphs">0.1</text>
<text x="202.22" y="395.5" textLength="18.8" lengthAdjust="spacingAndGlyphs">4.9</text>
<text x="208.95" y="319.5" textLength="18.8" lengthAdjust="spacingAndGlyphs">6.4</text>
<text x="215.68" y="645.3" textLength="18.8" lengthAdjust="spacingAndGlyphs">0.1</text>
<text x="491.71" y="639" textLength="18.8" lengthAdjust="spacingAndGlyphs">0.2</text>
<text x="505.18" y="428.5" textLength="18.8" lengthAdjust="spacingAndGlyphs">4.3</text>
<text x="511.91" y="255" textLength="18.8" lengthAdjust="spacingAndGlyphs">7.6</text>
<text x="518.64" y="622.1" textLength="18.8" lengthAdjust="spacingAndGlyphs">0.5</text>
<text x="532.11" y="279.5" textLength="18.8" lengthAdjust="spacingAndGlyphs">7.1</text>
<text x="545.57" y="642.1" textLength="18.8" lengthAdjust="spacingAndGlyphs">0.1</text>
<text x="552.3" y="618.7" textLength="18.8" lengthAdjust="spacingAndGlyphs">0.6</text>
<text x="559.04" y="548.2" textLength="18.8" lengthAdjust="spacingAndGlyphs">1.9</text>
<text x="579.23" y="645.5" textLength="18.8" lengthAdjust="spacingAndGlyphs">0.1</text>
<text x="585.97" y="583.8" textLength="18.8" lengthAdjust="spacingAndGlyphs">1.2</text>
<text x="592.7" y="454.2" textLength="18.8" lengthAdjust="spacingAndGlyphs">3.8</text>
<text x="612.9" y="645.3" textLength="18.8" lengthAdjust="spacingAndGlyphs">0.1</text>
<text x="653.29" y="639.3" textLength="18.8" lengthAdjust="spacingAndGlyphs">0.2</text>
<text x="666.76" y="390.1" textLength="18.8" lengthAdjust="spacingAndGlyphs">5.0</text>
<text x="673.49" y="560.5" textLength="18.8" lengthAdjust="spacingAndGlyphs">1.7</text>
<text x="680.22" y="628.5" textLength="18.8" lengthAdjust="spacingAndGlyphs">0.4</text>
<text x="707.15" y="639.3" textLength="18.8" lengthAdjust="spacingAndGlyphs">0.2</text>
<text x="774.47" y="645.5" textLength="18.8" lengthAdjust="spacingAndGlyphs">0.1</text>
</g>
<g font-size="13" text-anchor="middle" fill="#000" stroke="#000" stroke-width="0.95">
<text x="74.3" y="628.5" textLength="18.8" lengthAdjust="spacingAndGlyphs">0.4</text>
<text x="121.43" y="645.1" textLength="18.8" lengthAdjust="spacingAndGlyphs">0.1</text>
<text x="202.22" y="395.5" textLength="18.8" lengthAdjust="spacingAndGlyphs">4.9</text>
<text x="208.95" y="319.5" textLength="18.8" lengthAdjust="spacingAndGlyphs">6.4</text>
<text x="215.68" y="645.3" textLength="18.8" lengthAdjust="spacingAndGlyphs">0.1</text>
<text x="491.71" y="639" textLength="18.8" lengthAdjust="spacingAndGlyphs">0.2</text>
<text x="505.18" y="428.5" textLength="18.8" lengthAdjust="spacingAndGlyphs">4.3</text>
<text x="511.91" y="255" textLength="18.8" lengthAdjust="spacingAndGlyphs">7.6</text>
<text x="518.64" y="622.1" textLength="18.8" lengthAdjust="spacingAndGlyphs">0.5</text>
<text x="532.11" y="279.5" textLength="18.8" lengthAdjust="spacingAndGlyphs">7.1</text>
<text x="545.57" y="642.1" textLength="18.8" lengthAdjust="spacingAndGlyphs">0.1</text>
<text x="552.3" y="618.7" textLength="18.8" lengthAdjust="spacingAndGlyphs">0.6</text>
<text x="559.04" y="548.2" textLength="18.8" lengthAdjust="spacingAndGlyphs">1.9</text>
<text x="579.23" y="645.5" textLength="18.8" lengthAdjust="spacingAndGlyphs">0.1</text>
<text x="585.97" y="583.8" textLength="18.8" lengthAdjust="spacingAndGlyphs">1.2</text>
<text x="592.7" y="454.2" textLength="18.8" lengthAdjust="spacingAndGlyphs">3.8</text>
<text x="612.9" y="645.3" textLength="18.8" lengthAdjust="spacingAndGlyphs">0.1</text>
<text x="653.29" y="639.3" textLength="18.8" lengthAdjust="spacingAndGlyphs">0.2</text>
<text x="666.76" y="390.1" textLength="18.8" lengthAdjust="spacingAndGlyphs">5.0</text>
<text x="673.49" y="560.5" textLength="18.8" lengthAdjust="spacingAndGlyphs">1.7</text>
<text x="680.22" y="628.5" textLength="18.8" lengthAdjust="spacingAndGlyphs">0.4</text>
<text x="707.15" y="639.3" textLength="18.8" lengthAdjust="spacingAndGlyphs">0.2</text>
<text x="774.47" y="645.5" textLength="18.8" lengthAdjust="spacingAndGlyphs">0.1</text>
</g>
<path d="M57.5 661V704M64.5 661V704M71.5 661V704M78.5 661V704M84.5 661V704M91.5 661V704M98.5 661V704M105.5 661V704M111.5 661V704M118.5 661V704M125.5 661V704M132.5 661V704M138.5 661V704M145.5 661V704M152.5 661V704M158.5 661V704M165.5 661V704M172.5 661V704M179.5 661V704M185.5 661V704M192.5 661V704M199.5 661V704M206.5 661V704M212.5 661V704M219.5 661V704M226.5 661V704M233.5 661V704M239.5 661V704M246.5 661V704M253.5 661V704M259.5 661V704M266.5 661V704M273.5 661V704M280.5 661V704M286.5 661V704M293.5 661V704M300.5 661V704M307.5 661V704M313.5 661V704M320.5 661V704M327.5 661V704M334.5 661V704M340.5 661V704M347.5 661V704M354.5 661V704M360.5 661V704M367.5 661V704M374.5 661V704M381.5 661V704M387.5 661V704M394.5 661V704M401.5 661V704M408.5 661V704M414.5 661V704M421.5 661V704M428.5 661V704M434.5 661V704M441.5 661V704M448.5 661V704M455.5 661V704M461.5 661V704M468.5 661V704M475.5 661V704M482.5 661V704M488.5 661V704M495.5 661V704M502.5 661V704M509.5 661V704M515.5 661V704M522.5 661V704M529.5 661V704M535.5 661V704M542.5 661V704M549.5 661V704M556.5 661V704M562.5 661V704M569.5 661V704M576.5 661V704M583.5 661V704M589.5 661V704M596.5 661V704M603.5 661V704M610.5 661V704M616.5 661V704M623.5 661V704M630.5 661V704M636.5 661V704M643.5 661V704M650.5 661V704M657.5 661V704M663.5 661V704M670.5 661V704M677.5 661V704M684.5 661V704M690.5 661V704M697.5 661V704M704.5 661V704M711.5 661V704M717.5 661V704M724.5 661V704M731.5 661V704M737.5 661V704M744.5 661V704M751.5 661V704M758.5 661V704M764.5 661V704M771.5 661V704M778.5 661V704M785.5 661V704M791.5 661V704M798.5 661V704M805.5 661V704M812.5 661V704M818.5 661V704M825.5 661V704M832.5 661V704M838.5 661V704M845.5 661V704M852.5 661V704" stroke="#cfcfcf" stroke-width="1" fill="none"/>
<path d="M51.5 703.5V709.5M53.5 703.5V709.5M55.5 703.5V709.5M58.5 703.5V709.5M60.5 703.5V709.5M62.5 703.5V709.5M64.5 703.5V709.5M67.5 703.5V709.5M69.5 703.5V709.5M71.5 703.5V709.5M73.5 703.5V709.5M76.5 703.5V709.5M78.5 703.5V709.5M80.5 703.5V709.5M82.5 703.5V709.5M85.5 703.5V709.5M87.5 703.5V709.5M89.5 703.5V709.5M91.5 703.5V709.5M94.5 703.5V709.5M96.5 703.5V709.5M98.5 703.5V709.5M100.5 703.5V709.5M103.5 703.5V709.5M105.5 703.5V709.5M107.5 703.5V709.5M109.5 703.5V709.5M112.5 703.5V709.5M114.5 703.5V709.5M116.5 703.5V709.5M118.5 703.5V709.5M121.5 703.5V709.5M123.5 703.5V709.5M125.5 703.5V709.5M127.5 703.5V709.5M130.5 703.5V709.5M132.5 703.5V709.5M134.5 703.5V709.5M136.5 703.5V709.5M139.5 703.5V709.5M141.5 703.5V709.5M143.5 703.5V709.5M145.5 703.5V709.5M147.5 703.5V709.5M150.5 703.5V709.5M152.5 703.5V709.5M154.5 703.5V709.5M156.5 703.5V709.5M159.5 703.5V709.5M161.5 703.5V709.5M163.5 703.5V709.5M165.5 703.5V709.5M168.5 703.5V709.5M170.5 703.5V709.5M172.5 703.5V709.5M174.5 703.5V709.5M177.5 703.5V709.5M179.5 703.5V709.5M181.5 703.5V709.5M183.5 703.5V709.5M186.5 703.5V709.5M188.5 703.5V709.5M190.5 703.5V709.5M192.5 703.5V709.5M195.5 703.5V709.5M197.5 703.5V709.5M199.5 703.5V709.5M201.5 703.5V709.5M204.5 703.5V709.5M206.5 703.5V709.5M208.5 703.5V709.5M210.5 703.5V709.5M213.5 703.5V709.5M215.5 703.5V709.5M217.5 703.5V709.5M219.5 703.5V709.5M222.5 703.5V709.5M224.5 703.5V709.5M226.5 703.5V709.5M228.5 703.5V709.5M231.5 703.5V709.5M233.5 703.5V709.5M235.5 703.5V709.5M237.5 703.5V709.5M240.5 703.5V709.5M242.5 703.5V709.5M244.5 703.5V709.5M246.5 703.5V709.5M248.5 703.5V709.5M251.5 703.5V709.5M253.5 703.5V709.5M255.5 703.5V709.5M257.5 703.5V709.5M260.5 703.5V709.5M262.5 703.5V709.5M264.5 703.5V709.5M266.5 703.5V709.5M269.5 703.5V709.5M271.5 703.5V709.5M273.5 703.5V709.5M275.5 703.5V709.5M278.5 703.5V709.5M280.5 703.5V709.5M282.5 703.5V709.5M284.5 703.5V709.5M287.5 703.5V709.5M289.5 703.5V709.5M291.5 703.5V709.5M293.5 703.5V709.5M296.5 703.5V709.5M298.5 703.5V709.5M300.5 703.5V709.5M302.5 703.5V709.5M305.5 703.5V709.5M307.5 703.5V709.5M309.5 703.5V709.5M311.5 703.5V709.5M314.5 703.5V709.5M316.5 703.5V709.5M318.5 703.5V709.5M320.5 703.5V709.5M323.5 703.5V709.5M325.5 703.5V709.5M327.5 703.5V709.5M329.5 703.5V709.5M332.5 703.5V709.5M334.5 703.5V709.5M336.5 703.5V709.5M338.5 703.5V709.5M340.5 703.5V709.5M343.5 703.5V709.5M345.5 703.5V709.5M347.5 703.5V709.5M349.5 703.5V709.5M352.5 703.5V709.5M354.5 703.5V709.5M356.5 703.5V709.5M358.5 703.5V709.5M361.5 703.5V709.5M363.5 703.5V709.5M365.5 703.5V709.5M367.5 703.5V709.5M370.5 703.5V709.5M372.5 703.5V709.5M374.5 703.5V709.5M376.5 703.5V709.5M379.5 703.5V709.5M381.5 703.5V709.5M383.5 703.5V709.5M385.5 703.5V709.5M388.5 703.5V709.5M390.5 703.5V709.5M392.5 703.5V709.5M394.5 703.5V709.5M397.5 703.5V709.5M399.5 703.5V709.5M401.5 703.5V709.5M403.5 703.5V709.5M406.5 703.5V709.5M408.5 703.5V709.5M410.5 703.5V709.5M412.5 703.5V709.5M415.5 703.5V709.5M417.5 703.5V709.5M419.5 703.5V709.5M421.5 703.5V709.5M424.5 703.5V709.5M426.5 703.5V709.5M428.5 703.5V709.5M430.5 703.5V709.5M433.5 703.5V709.5M435.5 703.5V709.5M437.5 703.5V709.5M439.5 703.5V709.5M441.5 703.5V709.5M444.5 703.5V709.5M446.5 703.5V709.5M448.5 703.5V709.5M450.5 703.5V709.5M453.5 703.5V709.5M455.5 703.5V709.5M457.5 703.5V709.5M459.5 703.5V709.5M462.5 703.5V709.5M464.5 703.5V709.5M466.5 703.5V709.5M468.5 703.5V709.5M471.5 703.5V709.5M473.5 703.5V709.5M475.5 703.5V709.5M477.5 703.5V709.5M480.5 703.5V709.5M482.5 703.5V709.5M484.5 703.5V709.5M486.5 703.5V709.5M489.5 703.5V709.5M491.5 703.5V709.5M493.5 703.5V709.5M495.5 703.5V709.5M498.5 703.5V709.5M500.5 703.5V709.5M502.5 703.5V709.5M504.5 703.5V709.5M507.5 703.5V709.5M509.5 703.5V709.5M511.5 703.5V709.5M513.5 703.5V709.5M516.5 703.5V709.5M518.5 703.5V709.5M520.5 703.5V709.5M522.5 703.5V709.5M525.5 703.5V709.5M527.5 703.5V709.5M529.5 703.5V709.5M531.5 703.5V709.5M533.5 703.5V709.5M536.5 703.5V709.5M538.5 703.5V709.5M540.5 703.5V709.5M542.5 703.5V709.5M545.5 703.5V709.5M547.5 703.5V709.5M549.5 703.5V709.5M551.5 703.5V709.5M554.5 703.5V709.5M556.5 703.5V709.5M558.5 703.5V709.5M560.5 703.5V709.5M563.5 703.5V709.5M565.5 703.5V709.5M567.5 703.5V709.5M569.5 703.5V709.5M572.5 703.5V709.5M574.5 703.5V709.5M576.5 703.5V709.5M578.5 703.5V709.5M581.5 703.5V709.5M583.5 703.5V709.5M585.5 703.5V709.5M587.5 703.5V709.5M590.5 703.5V709.5M592.5 703.5V709.5M594.5 703.5V709.5M596.5 703.5V709.5M599.5 703.5V709.5M601.5 703.5V709.5M603.5 703.5V709.5M605.5 703.5V709.5M608.5 703.5V709.5M610.5 703.5V709.5M612.5 703.5V709.5M614.5 703.5V709.5M617.5 703.5V709.5M619.5 703.5V709.5M621.5 703.5V709.5M623.5 703.5V709.5M625.5 703.5V709.5M628.5 703.5V709.5M630.5 703.5V709.5M632.5 703.5V709.5M634.5 703.5V709.5M637.5 703.5V709.5M639.5 703.5V709.5M641.5 703.5V709.5M643.5 703.5V709.5M646.5 703.5V709.5M648.5 703.5V709.5M650.5 703.5V709.5M652.5 703.5V709.5M655.5 703.5V709.5M657.5 703.5V709.5M659.5 703.5V709.5M661.5 703.5V709.5M664.5 703.5V709.5M666.5 703.5V709.5M668.5 703.5V709.5M670.5 703.5V709.5M673.5 703.5V709.5M675.5 703.5V709.5M677.5 703.5V709.5M679.5 703.5V709.5M682.5 703.5V709.5M684.5 703.5V709.5M686.5 703.5V709.5M688.5 703.5V709.5M691.5 703.5V709.5M693.5 703.5V709.5M695.5 703.5V709.5M697.5 703.5V709.5M700.5 703.5V709.5M702.5 703.5V709.5M704.5 703.5V709.5M706.5 703.5V709.5M709.5 703.5V709.5M711.5 703.5V709.5M713.5 703.5V709.5M715.5 703.5V709.5M718.5 703.5V709.5M720.5 703.5V709.5M722.5 703.5V709.5M724.5 703.5V709.5M726.5 703.5V709.5M729.5 703.5V709.5M731.5 703.5V709.5M733.5 703.5V709.5M735.5 703.5V709.5M738.5 703.5V709.5M740.5 703.5V709.5M742.5 703.5V709.5M744.5 703.5V709.5M747.5 703.5V709.5M749.5 703.5V709.5M751.5 703.5V709.5M753.5 703.5V709.5M756.5 703.5V709.5M758.5 703.5V709.5M760.5 703.5V709.5M762.5 703.5V709.5M765.5 703.5V709.5M767.5 703.5V709.5M769.5 703.5V709.5M771.5 703.5V709.5M774.5 703.5V709.5M776.5 703.5V709.5M778.5 703.5V709.5M780.5 703.5V709.5M783.5 703.5V709.5M785.5 703.5V709.5M787.5 703.5V709.5M789.5 703.5V709.5M792.5 703.5V709.5M794.5 703.5V709.5M796.5 703.5V709.5M798.5 703.5V709.5M801.5 703.5V709.5M803.5 703.5V709.5M805.5 703.5V709.5M807.5 703.5V709.5M810.5 703.5V709.5M812.5 703.5V709.5M814.5 703.5V709.5M816.5 703.5V709.5M818.5 703.5V709.5M821.5 703.5V709.5M823.5 703.5V709.5M825.5 703.5V709.5M827.5 703.5V709.5M830.5 703.5V709.5M832.5 703.5V709.5M834.5 703.5V709.5M836.5 703.5V709.5M839.5 703.5V709.5M841.5 703.5V709.5M843.5 703.5V709.5M845.5 703.5V709.5M848.5 703.5V709.5M850.5 703.5V709.5M852.5 703.5V709.5M854.5 703.5V709.5M857.5 703.5V709.5M859.5 703.5V709.5" stroke="#bcc6d8" stroke-width="1.2" fill="none"/>
<g fill="none" stroke="#000" stroke-width="2.3" stroke-linejoin="miter" stroke-miterlimit="10">
<path transform="translate(68.24 683.35) rotate(133.64)" d="M0 15 L0 -15 L10.5 -15"/>
<path transform="translate(68.24 683.35) rotate(133.64)" d="M-3.7 9.3 L0 17.3 L3.7 9.3 Z" fill="#000" stroke="none"/>
<path transform="translate(88.41 683.84) rotate(122.96)" d="M0 15 L0 -15 L10.5 -15"/>
<path transform="translate(88.41 683.84) rotate(122.96)" d="M-3.7 9.3 L0 17.3 L3.7 9.3 Z" fill="#000" stroke="none"/>
<path transform="translate(108.42 683.27) rotate(-174.56)" d="M0 15 L0 -15 L10.5 -15"/>
<path transform="translate(108.42 683.27) rotate(-174.56)" d="M-3.7 9.3 L0 17.3 L3.7 9.3 Z" fill="#000" stroke="none"/>
<path transform="translate(128.98 684.48) rotate(-25.17)" d="M0 15 L0 -15 M0 -13.05 L6 -13.05"/>
<path transform="translate(128.98 684.48) rotate(-25.17)" d="M-3.7 9.3 L0 17.3 L3.7 9.3 Z" fill="#000" stroke="none"/>
<path transform="translate(147.81 683.02) rotate(-132.24)" d="M0 15 L0 -15 L10.5 -15 M0 -10.5 L10.5 -10.5 M0 -6 L6 -6"/>
<path transform="translate(147.81 683.02) rotate(-132.24)" d="M-3.7 9.3 L0 17.3 L3.7 9.3 Z" fill="#000" stroke="none"/>
<path transform="translate(168.83 683.44) rotate(169.74)" d="M0 15 L0 -15 L10.5 -15"/>
<path transform="translate(168.83 683.44) rotate(169.74)" d="M-3.7 9.3 L0 17.3 L3.7 9.3 Z" fill="#000" stroke="none"/>
<path transform="translate(188.75 683.01) rotate(65.54)" d="M0 15 L0 -15 M0 -13.05 L6 -13.05"/>
<path transform="translate(188.75 683.01) rotate(65.54)" d="M-3.7 9.3 L0 17.3 L3.7 9.3 Z" fill="#000" stroke="none"/>
<path transform="translate(209.07 684.96) rotate(-4.1)" d="M0 15 L0 -15 M0 -13.05 L6 -13.05"/>
<path transform="translate(209.07 684.96) rotate(-4.1)" d="M-3.7 9.3 L0 17.3 L3.7 9.3 Z" fill="#000" stroke="none"/>
<path transform="translate(229.42 683.13) rotate(-52.03)" d="M0 15 L0 -15 L10.5 -15 M0 -10.5 L6 -10.5"/>
<path transform="translate(229.42 683.13) rotate(-52.03)" d="M-3.7 9.3 L0 17.3 L3.7 9.3 Z" fill="#000" stroke="none"/>
<path transform="translate(249.09 682.77) rotate(-20.23)" d="M0 15 L0 -15 L10.5 -15 M0 -10.5 L6 -10.5"/>
<path transform="translate(249.09 682.77) rotate(-20.23)" d="M-3.7 9.3 L0 17.3 L3.7 9.3 Z" fill="#000" stroke="none"/>
<path transform="translate(269.18 682.67) rotate(-34.44)" d="M0 15 L0 -15 L10.5 -15"/>
<path transform="translate(269.18 682.67) rotate(-34.44)" d="M-3.7 9.3 L0 17.3 L3.7 9.3 Z" fill="#000" stroke="none"/>
<path transform="translate(291.54 683.52) rotate(-70.46)" d="M0 15 L0 -15 M0 -13.05 L6 -13.05"/>
<path transform="translate(291.54 683.52) rotate(-70.46)" d="M-3.7 9.3 L0 17.3 L3.7 9.3 Z" fill="#000" stroke="none"/>
<path transform="translate(310.31 683.28) rotate(-55.13)" d="M0 15 L0 -15"/>
<path transform="translate(310.31 683.28) rotate(-55.13)" d="M-3.7 9.3 L0 17.3 L3.7 9.3 Z" fill="#000" stroke="none"/>
<path transform="translate(330.01 683.19) rotate(113.2)" d="M0 15 L0 -15 M0 -13.05 L6 -13.05"/>
<path transform="translate(330.01 683.19) rotate(113.2)" d="M-3.7 9.3 L0 17.3 L3.7 9.3 Z" fill="#000" stroke="none"/>
<path transform="translate(350.7 683.27) rotate(90.9)" d="M0 15 L0 -15"/>
<path transform="translate(350.7 683.27) rotate(90.9)" d="M-3.7 9.3 L0 17.3 L3.7 9.3 Z" fill="#000" stroke="none"/>
<path transform="translate(370.31 682.81) rotate(88.05)" d="M0 15 L0 -15"/>
<path transform="translate(370.31 682.81) rotate(88.05)" d="M-3.7 9.3 L0 17.3 L3.7 9.3 Z" fill="#000" stroke="none"/>
<path transform="translate(390.27 683.49) rotate(63.52)" d="M0 15 L0 -15 M0 -13.05 L6 -13.05"/>
<path transform="translate(390.27 683.49) rotate(63.52)" d="M-3.7 9.3 L0 17.3 L3.7 9.3 Z" fill="#000" stroke="none"/>
<path transform="translate(410.37 683.38) rotate(37.02)" d="M0 15 L0 -15"/>
<path transform="translate(410.37 683.38) rotate(37.02)" d="M-3.7 9.3 L0 17.3 L3.7 9.3 Z" fill="#000" stroke="none"/>
<path transform="translate(431.23 682.37) rotate(133.02)" d="M0 15 L0 -15 M0 -13.05 L6 -13.05"/>
<path transform="translate(431.23 682.37) rotate(133.02)" d="M-3.7 9.3 L0 17.3 L3.7 9.3 Z" fill="#000" stroke="none"/>
<path transform="translate(450.96 683.11) rotate(124)" d="M0 15 L0 -15 M0 -13.05 L6 -13.05"/>
<path transform="translate(450.96 683.11) rotate(124)" d="M-3.7 9.3 L0 17.3 L3.7 9.3 Z" fill="#000" stroke="none"/>
<path transform="translate(471.03 682.35) rotate(147.47)" d="M0 15 L0 -15 M0 -13.05 L6 -13.05"/>
<path transform="translate(471.03 682.35) rotate(147.47)" d="M-3.7 9.3 L0 17.3 L3.7 9.3 Z" fill="#000" stroke="none"/>
<path transform="translate(491.07 682.58) rotate(143.92)" d="M0 15 L0 -15 M0 -13.05 L6 -13.05"/>
<path transform="translate(491.07 682.58) rotate(143.92)" d="M-3.7 9.3 L0 17.3 L3.7 9.3 Z" fill="#000" stroke="none"/>
<path transform="translate(511.76 683.2) rotate(147.13)" d="M0 15 L0 -15 L10.5 -15"/>
<path transform="translate(511.76 683.2) rotate(147.13)" d="M-3.7 9.3 L0 17.3 L3.7 9.3 Z" fill="#000" stroke="none"/>
<path transform="translate(532.53 681.94) rotate(-126.69)" d="M0 15 L0 -15 M0 -13.05 L6 -13.05"/>
<path transform="translate(532.53 681.94) rotate(-126.69)" d="M-3.7 9.3 L0 17.3 L3.7 9.3 Z" fill="#000" stroke="none"/>
<path transform="translate(552.62 683.84) rotate(139.83)" d="M0 15 L0 -15 L10.5 -15"/>
<path transform="translate(552.62 683.84) rotate(139.83)" d="M-3.7 9.3 L0 17.3 L3.7 9.3 Z" fill="#000" stroke="none"/>
<path transform="translate(572.44 683.56) rotate(132.51)" d="M0 15 L0 -15 L10.5 -15 M0 -10.5 L10.5 -10.5 M0 -6 L6 -6"/>
<path transform="translate(572.44 683.56) rotate(132.51)" d="M-3.7 9.3 L0 17.3 L3.7 9.3 Z" fill="#000" stroke="none"/>
<path transform="translate(592.62 683.11) rotate(126.35)" d="M0 15 L0 -15 L10.5 -15 M0 -10.5 L10.5 -10.5 M0 -6 L6 -6"/>
<path transform="translate(592.62 683.11) rotate(126.35)" d="M-3.7 9.3 L0 17.3 L3.7 9.3 Z" fill="#000" stroke="none"/>
<path transform="translate(612.63 683.17) rotate(-84.36)" d="M0 15 L0 -15 L10.5 -15 M0 -10.5 L6 -10.5"/>
<path transform="translate(612.63 683.17) rotate(-84.36)" d="M-3.7 9.3 L0 17.3 L3.7 9.3 Z" fill="#000" stroke="none"/>
<path transform="translate(633.07 682.92) rotate(-18.55)" d="M0 15 L0 -15 L10.5 -15"/>
<path transform="translate(633.07 682.92) rotate(-18.55)" d="M-3.7 9.3 L0 17.3 L3.7 9.3 Z" fill="#000" stroke="none"/>
<path transform="translate(652.77 682.87) rotate(-24.29)" d="M0 15 L0 -15 L10.5 -15"/>
<path transform="translate(652.77 682.87) rotate(-24.29)" d="M-3.7 9.3 L0 17.3 L3.7 9.3 Z" fill="#000" stroke="none"/>
<path transform="translate(672.96 682.93) rotate(-36.69)" d="M0 15 L0 -15 L10.5 -15 M0 -10.5 L6 -10.5"/>
<path transform="translate(672.96 682.93) rotate(-36.69)" d="M-3.7 9.3 L0 17.3 L3.7 9.3 Z" fill="#000" stroke="none"/>
<path transform="translate(693.72 682.91) rotate(23.93)" d="M0 15 L0 -15 L10.5 -15"/>
<path transform="translate(693.72 682.91) rotate(23.93)" d="M-3.7 9.3 L0 17.3 L3.7 9.3 Z" fill="#000" stroke="none"/>
<path transform="translate(714.01 683.97) rotate(3.77)" d="M0 15 L0 -15 M0 -13.05 L6 -13.05"/>
<path transform="translate(714.01 683.97) rotate(3.77)" d="M-3.7 9.3 L0 17.3 L3.7 9.3 Z" fill="#000" stroke="none"/>
<path transform="translate(734.02 683.73) rotate(8.76)" d="M0 15 L0 -15"/>
<path transform="translate(734.02 683.73) rotate(8.76)" d="M-3.7 9.3 L0 17.3 L3.7 9.3 Z" fill="#000" stroke="none"/>
<path transform="translate(753.68 682.86) rotate(142.09)" d="M0 15 L0 -15"/>
<path transform="translate(753.68 682.86) rotate(142.09)" d="M-3.7 9.3 L0 17.3 L3.7 9.3 Z" fill="#000" stroke="none"/>
<path transform="translate(774.31 683.4) rotate(119.99)" d="M0 15 L0 -15"/>
<path transform="translate(774.31 683.4) rotate(119.99)" d="M-3.7 9.3 L0 17.3 L3.7 9.3 Z" fill="#000" stroke="none"/>
<path transform="translate(794.47 683.56) rotate(113.74)" d="M0 15 L0 -15"/>
<path transform="translate(794.47 683.56) rotate(113.74)" d="M-3.7 9.3 L0 17.3 L3.7 9.3 Z" fill="#000" stroke="none"/>
<path transform="translate(814.77 683.33) rotate(176.43)" d="M0 15 L0 -15"/>
<path transform="translate(814.77 683.33) rotate(176.43)" d="M-3.7 9.3 L0 17.3 L3.7 9.3 Z" fill="#000" stroke="none"/>
<path transform="translate(834.54 682.65) rotate(149.73)" d="M0 15 L0 -15 M0 -13.05 L6 -13.05"/>
<path transform="translate(834.54 682.65) rotate(149.73)" d="M-3.7 9.3 L0 17.3 L3.7 9.3 Z" fill="#000" stroke="none"/>
<path transform="translate(854.85 683.14) rotate(134.24)" d="M0 15 L0 -15 M0 -13.05 L6 -13.05"/>
<path transform="translate(854.85 683.14) rotate(134.24)" d="M-3.7 9.3 L0 17.3 L3.7 9.3 Z" fill="#000" stroke="none"/>
</g>
<text y="29.4" font-size="26" fill="#333">
<tspan x="252" textLength="47.2" lengthAdjust="spacingAndGlyphs">GFS</tspan>
<tspan x="307.6" textLength="76.2" lengthAdjust="spacingAndGlyphs">Siklós</tspan>
<tspan x="391.6" textLength="60.5" lengthAdjust="spacingAndGlyphs">(HU)</tspan>
<tspan x="460.4" textLength="107.5" lengthAdjust="spacingAndGlyphs">45.75N,</tspan>
<tspan x="578.8" textLength="91.2" lengthAdjust="spacingAndGlyphs">18.25E</tspan>
</text>
<text x="459.5" y="53.4" font-size="17.6" fill="#666" text-anchor="middle" textLength="353" lengthAdjust="spacingAndGlyphs">Init: Thu, 30Nov2023 00Z 07:09 16:01</text>
<g font-size="16.8" fill="#666">
<text transform="translate(110.4 124.2) rotate(-45)"><tspan font-weight="bold" fill="#505050">Fri</tspan> Dec 1</text>
<text transform="translate(164.13 124.2) rotate(-45)"><tspan font-weight="bold" fill="#505050">Sat</tspan> Dec 2</text>
<text transform="translate(217.86 124.2) rotate(-45)"><tspan font-weight="bold" fill="#505050">Sun</tspan> Dec 3</text>
<text transform="translate(271.59 124.2) rotate(-45)"><tspan font-weight="bold" fill="#505050">Mon</tspan> Dec 4</text>
<text transform="translate(325.32 124.2) rotate(-45)"><tspan font-weight="bold" fill="#505050">Tue</tspan> Dec 5</text>
<text transform="translate(379.05 124.2) rotate(-45)"><tspan font-weight="bold" fill="#505050">Wed</tspan> Dec 6</text>
<text transform="translate(432.78 124.2) rotate(-45)"><tspan font-weight="bold" fill="#505050">Thu</tspan> Dec 7</text>
<text transform="translate(486.51 124.2) rotate(-45)"><tspan font-weight="bold" fill="#505050">Fri</tspan> Dec 8</text>
<text transform="translate(540.24 124.2) rotate(-45)"><tspan font-weight="bold" fill="#505050">Sat</tspan> Dec 9</text>
<text transform="translate(593.97 124.2) rotate(-45)"><tspan font-weight="bold" fill="#505050">Sun</tspan> Dec 10</text>
<text transform="translate(647.7 124.2) rotate(-45)"><tspan font-weight="bold" fill="#505050">Mon</tspan> Dec 11</text>
<text transform="translate(701.43 124.2) rotate(-45)"><tspan font-weight="bold" fill="#505050">Tue</tspan> Dec 12</text>
<text transform="translate(755.16 124.2) rotate(-45)"><tspan font-weight="bold" fill="#505050">Wed</tspan> Dec 13</text>
<text transform="translate(808.89 124.2) rotate(-45)"><tspan font-weight="bold" fill="#505050">Thu</tspan> Dec 14</text>
</g>
<g font-size="16" fill="#666" text-anchor="end">
<text x="49.1" y="184.9">°</text>
<text x="42.75" y="184.9">20</text>
<text x="49.1" y="264.9">°</text>
<text x="42.75" y="264.9">15</text>
<text x="49.1" y="344.9">°</text>
<text x="42.75" y="344.9">10</text>
<text x="49.1" y="424.9">°</text>
<text x="42.75" y="424.9">5</text>
<text x="49.1" y="504.9">°</text>
<text x="42.75" y="504.9">0</text>
<text x="49.1" y="584.9">°</text>
<text x="42.75" y="584.9">5</text>
<text transform="translate(34.04 584.9) scale(0.86 1)">−</text>
<text x="49.1" y="664.9">°</text>
<text x="42.75" y="664.9">10</text>
<text transform="translate(24.34 664.9) scale(0.86 1)">−</text>
</g>
<g font-size="16" fill="#666">
<text x="882.6" y="666.4">0</text>
<text x="882.6" y="563">2</text>
<text x="882.6" y="459.6">4</text>
<text x="882.6" y="356.2">6</text>
<text x="882.6" y="252.8">8</text>
<text x="882.6" y="149.4">10</text>
</g>
<text transform="translate(908.6 406) rotate(90)" font-size="17.5" fill="#666" text-anchor="middle" textLength="168" lengthAdjust="spacingAndGlyphs">Precipitation (mm)</text>
<g font-size="16" fill="#666" text-anchor="middle">
<text x="76.06" y="735.5">12</text>
<text x="102.2" y="735.5">00</text>
<text x="129.94" y="735.5">12</text>
<text x="156.08" y="735.5">00</text>
<text x="183.82" y="735.5">12</text>
<text x="209.96" y="735.5">00</text>
<text x="237.7" y="735.5">12</text>
<text x="263.84" y="735.5">00</text>
<text x="291.58" y="735.5">12</text>
<text x="317.72" y="735.5">00</text>
<text x="345.46" y="735.5">12</text>
<text x="371.6" y="735.5">00</text>
<text x="399.34" y="735.5">12</text>
<text x="425.48" y="735.5">00</text>
<text x="453.22" y="735.5">12</text>
<text x="479.36" y="735.5">00</text>
<text x="507.1" y="735.5">12</text>
<text x="533.24" y="735.5">00</text>
<text x="560.98" y="735.5">12</text>
<text x="587.12" y="735.5">00</text>
<text x="614.86" y="735.5">12</text>
<text x="641" y="735.5">00</text>
<text x="668.74" y="735.5">12</text>
<text x="694.88" y="735.5">00</text>
<text x="722.62" y="735.5">12</text>
<text x="748.76" y="735.5">00</text>
<text x="776.5" y="735.5">12</text>
<text x="802.64" y="735.5">00</text>
<text x="830.38" y="735.5">12</text>
</g>
<text x="456" y="766.2" font-size="18.2" fill="#666" text-anchor="middle" textLength="172" lengthAdjust="spacingAndGlyphs">Local time (UTC+1)</text>
<text x="859" y="759.3" font-size="13.1" fill="#999" text-anchor="end" textLength="119" lengthAdjust="spacingAndGlyphs">wetterzentrale.de</text>
</svg></body></html>
